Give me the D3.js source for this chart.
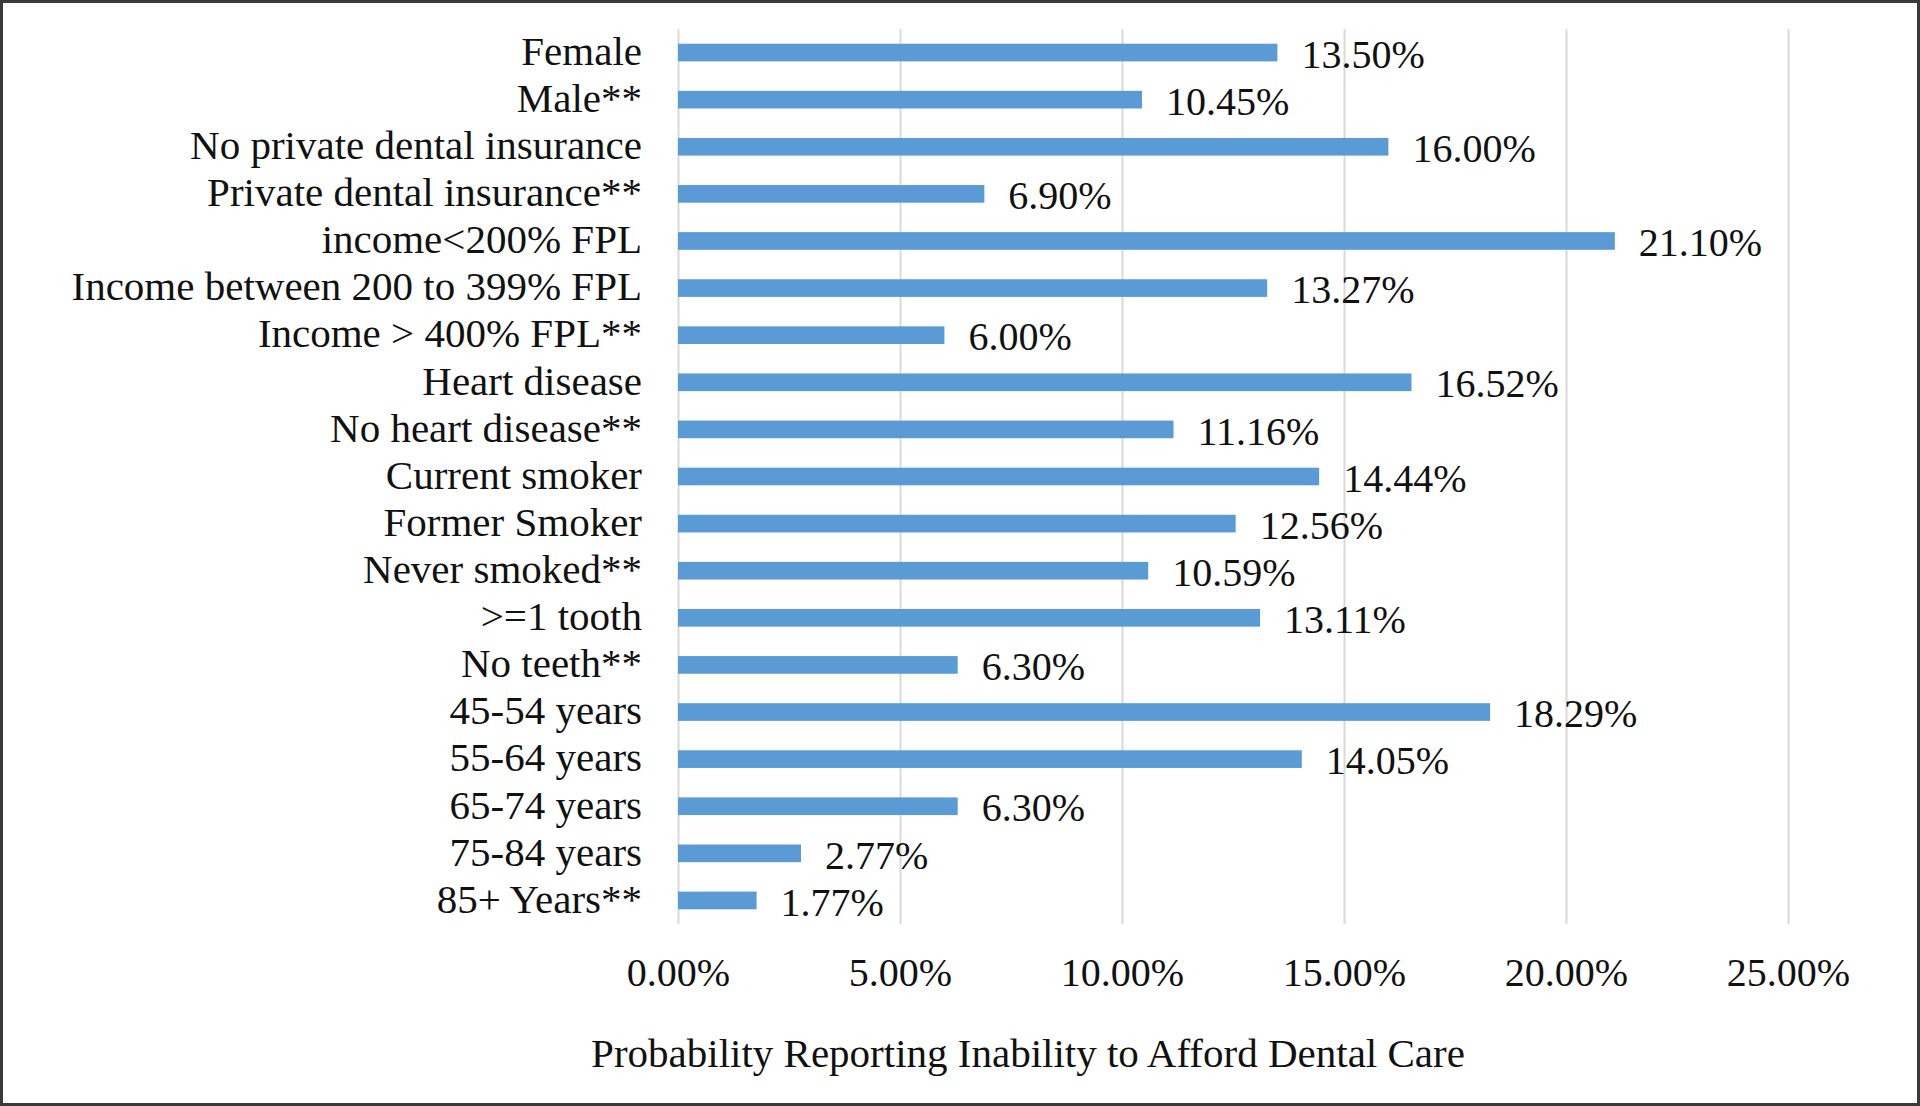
<!DOCTYPE html>
<html>
<head>
<meta charset="utf-8">
<style>
    body { margin: 0; background: #fff; }
    svg { display: block; font-family: 'Liberation Serif', 'Times New Roman', serif; }
    .cat text { font-size: 41px; fill: #111; }
    .val { font-size: 40px; fill: #111; }
    .x .tick text { font-size: 40px; fill: #111; font-family: 'Liberation Serif', 'Times New Roman', serif; }
    .x .tick line { stroke: #d9d9d9; stroke-width: 2; }
    .x .domain { display: none; }
    .axis-title { font-size: 41px; fill: #111; }
</style>
</head>
<body>
<svg width="1920" height="1106"></svg>

<script src="https://d3js.org/d3.v7.min.js"></script>
<script>
    let categories = [
        "Female",
        "Male**",
        "No private dental insurance",
        "Private dental insurance**",
        "income<200% FPL",
        "Income between 200 to 399% FPL",
        "Income > 400% FPL**",
        "Heart disease",
        "No heart disease**",
        "Current smoker",
        "Former Smoker",
        "Never smoked**",
        ">=1 tooth",
        "No teeth**",
        "45-54 years",
        "55-64 years",
        "65-74 years",
        "75-84 years",
        "85+ Years**"
    ]

    // percent values
    let values = [13.50, 10.45, 16.00, 6.90, 21.10, 13.27, 6.00, 16.52, 11.16, 14.44,
        12.56, 10.59, 13.11, 6.30, 18.29, 14.05, 6.30, 2.77, 1.77]

    let xTicks = [0, 5, 10, 15, 20, 25]

    let data = categories.map((c, i) => ({ cat: c, v: values[i] }))

    let svg = d3.select("svg")

    // frame
    svg.append("rect")
        .attr("x", 1.5).attr("y", 1.5)
        .attr("width", 1917).attr("height", 1103)
        .attr("fill", "none")
        .attr("stroke", "#3a3a3a")
        .attr("stroke-width", 3)

    let margin = { top: 29, bottom: 924, left: 678, right: 1788 }

    let x = d3.scaleLinear()
        .domain([0, 25])
        .range([margin.left, margin.right])

    let y = d3.scaleBand()
        .domain(categories)
        .range([margin.top, margin.bottom])
        .paddingInner(0.625)
        .paddingOuter(0.3125)

    // grid + tick labels
    let xAxis = d3.axisBottom(x)
        .tickValues(xTicks)
        .tickSize(-(margin.bottom - margin.top))
        .tickPadding(34)
        .tickFormat(d => d3.format(".2f")(d) + "%")

    svg.append("g")
        .attr("class", "x axis")
        .attr("transform", `translate(0,${margin.bottom})`)
        .call(xAxis)
        .attr("font-family", null)
        .attr("font-size", null)

    // bars
    svg.append("g")
        .selectAll("rect")
        .data(data)
        .join("rect")
        .attr("x", x(0))
        .attr("y", d => y(d.cat))
        .attr("width", d => x(d.v) - x(0))
        .attr("height", y.bandwidth())
        .attr("fill", "#5b9bd5")

    // value labels
    svg.append("g")
        .selectAll("text")
        .data(data)
        .join("text")
        .attr("class", "val")
        .attr("x", d => x(d.v) + 24)
        .attr("y", d => y(d.cat) + y.bandwidth() / 2)
        .attr("dy", "0.38em")
        .text(d => d3.format(".2f")(d.v) + "%")

    // category labels
    svg.append("g")
        .attr("class", "cat")
        .selectAll("text")
        .data(data)
        .join("text")
        .attr("x", 642)
        .attr("y", d => y(d.cat) + y.bandwidth() / 2)
        .attr("dy", "0.3em")
        .attr("text-anchor", "end")
        .text(d => d.cat)

    // axis title
    svg.append("text")
        .attr("class", "axis-title")
        .attr("x", 1028)
        .attr("y", 1067)
        .attr("text-anchor", "middle")
        .text("Probability Reporting Inability to Afford Dental Care")
</script>
</body>
</html>
